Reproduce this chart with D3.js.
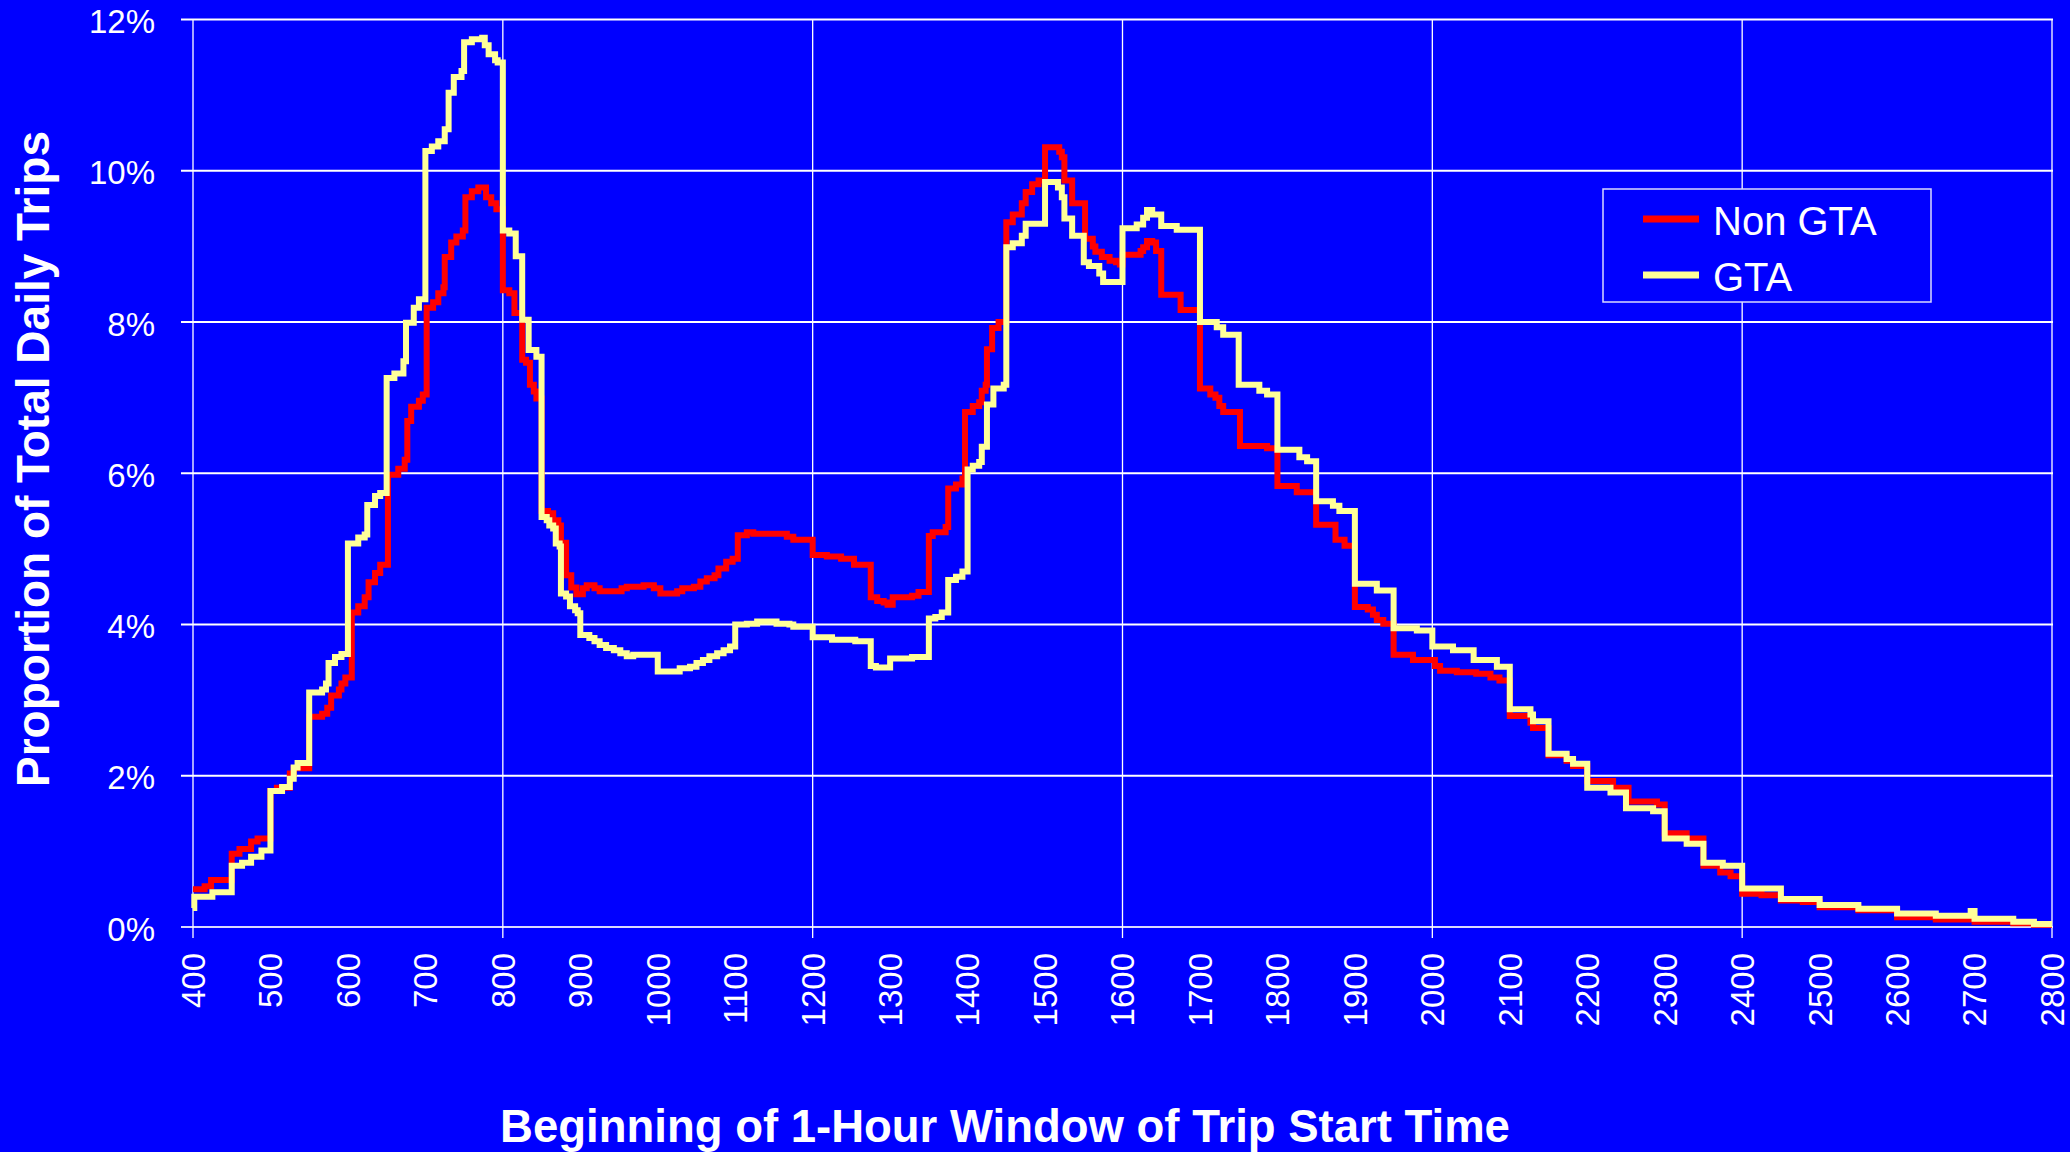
<!DOCTYPE html>
<html>
<head>
<meta charset="utf-8">
<script src="https://cdn.jsdelivr.net/npm/d3@7"></script>
<style>
  html, body { margin: 0; padding: 0; background: #0000ff; }
  svg { display: block; }
  text { font-family: Arial, "Liberation Sans", sans-serif; fill: #ffffff; }
</style>
</head>
<body>
<div id="chart"></div>
<script>
// [start of step (hhmm, may pass 2400), proportion %]
var nonGtaSteps = [
  [400,0.50],[409,0.54],[414,0.62],[430,0.97],[436,1.03],[445,1.13],[450,1.17],
  [500,1.80],[505,1.84],[515,2.03],[518,2.10],
  [530,2.78],[540,2.82],[544,2.90],[547,3.06],[553,3.14],[555,3.22],[558,3.30],
  [603,4.16],[608,4.24],[613,4.36],[616,4.56],[621,4.68],[625,4.79],
  [631,5.98],[639,6.06],[644,6.18],[646,6.69],[649,6.88],[655,6.96],[658,7.04],
  [701,8.19],[706,8.26],[710,8.38],[714,8.46],[715,8.86],[720,9.05],[724,9.13],[729,9.21],
  [731,9.65],[736,9.73],[741,9.78],[747,9.65],[751,9.57],[755,9.49],
  [800,8.42],[805,8.38],[809,8.12],[815,7.50],[818,7.46],[821,7.17],[824,7.08],[826,6.99],
  [830,5.50],[835,5.47],[839,5.38],[843,5.31],[845,5.08],[849,4.65],[853,4.49],[857,4.40],
  [902,4.48],[905,4.52],[911,4.48],[915,4.44],[932,4.48],[936,4.50],[949,4.52],[957,4.48],
  [1002,4.41],[1015,4.44],[1019,4.48],[1028,4.50],[1033,4.57],[1038,4.61],[1044,4.65],[1047,4.74],[1053,4.83],[1058,4.87],
  [1102,5.18],[1109,5.22],[1114,5.20],[1140,5.16],[1145,5.12],
  [1200,4.92],[1211,4.90],[1222,4.87],[1232,4.79],
  [1245,4.36],[1250,4.31],[1255,4.29],[1258,4.26],[1302,4.36],[1317,4.38],[1322,4.43],
  [1330,5.17],[1333,5.22],[1343,5.29],
  [1345,5.80],[1351,5.85],[1356,5.93],
  [1358,6.81],[1404,6.89],[1409,6.94],[1411,7.09],[1414,7.17],[1415,7.64],[1419,7.92],[1424,8.00],
  [1430,9.32],[1435,9.42],[1442,9.57],[1445,9.72],[1450,9.82],[1455,9.87],
  [1500,10.31],[1511,10.25],[1513,10.18],
  [1515,9.87],[1521,9.57],[1531,9.10],[1537,9.00],[1539,8.93],[1544,8.86],[1550,8.81],[1555,8.79],[1558,8.76],
  [1600,8.89],[1614,8.94],[1616,8.99],[1619,9.07],[1623,9.05],[1626,8.94],
  [1630,8.36],[1645,8.16],
  [1700,7.12],[1708,7.04],[1712,7.00],[1715,6.89],[1718,6.81],
  [1731,6.36],[1752,6.33],
  [1800,5.83],[1815,5.75],
  [1830,5.32],[1845,5.12],[1852,5.04],
  [1900,4.23],[1910,4.20],[1914,4.13],[1917,4.06],[1922,4.01],
  [1930,3.60],[1945,3.53],
  [2002,3.45],[2006,3.39],[2019,3.37],[2034,3.35],[2045,3.30],[2052,3.26],
  [2100,2.79],[2116,2.70],[2118,2.63],
  [2130,2.27],[2144,2.20],[2149,2.13],
  [2200,1.93],[2220,1.84],
  [2232,1.66],[2254,1.62],
  [2300,1.24],[2317,1.17],
  [2330,0.81],[2343,0.72],[2351,0.67],
  [2400,0.44],[2415,0.42],[2430,0.35],[2447,0.33],[2500,0.26],[2530,0.22],
  [2600,0.13],[2630,0.10],[2700,0.07],[2730,0.05],[2746,0.03],[2800,0.03]
];

var gtaSteps = [
  [400,0.25],[401,0.40],[415,0.46],[430,0.81],[438,0.85],[445,0.93],[453,1.01],
  [500,1.80],[509,1.85],[515,1.96],[518,2.11],[521,2.17],
  [530,3.10],[540,3.14],[543,3.22],[545,3.49],[550,3.57],[555,3.61],
  [600,5.07],[608,5.15],[613,5.19],[615,5.58],[621,5.70],[625,5.74],
  [630,7.26],[636,7.32],[643,7.48],[645,7.99],[651,8.19],[655,8.30],
  [700,10.26],[705,10.32],[710,10.39],[715,10.55],[718,11.03],[722,11.24],[728,11.32],
  [730,11.70],[736,11.74],[744,11.76],[746,11.66],[749,11.54],[754,11.46],[756,11.43],
  [800,9.21],[805,9.17],[810,8.87],[815,8.03],[820,7.63],[826,7.54],
  [830,5.42],[834,5.38],[836,5.31],[839,5.27],[841,5.07],[844,5.03],
  [845,4.41],[849,4.37],[852,4.24],[856,4.19],[858,4.15],
  [900,3.86],[907,3.82],[911,3.78],[915,3.73],[920,3.69],[926,3.66],[931,3.62],[936,3.58],[941,3.60],
  [1000,3.38],[1017,3.42],[1025,3.44],[1030,3.49],[1035,3.53],[1040,3.58],[1046,3.62],[1051,3.66],[1056,3.71],
  [1100,4.00],[1109,4.01],[1117,4.04],[1132,4.01],[1142,4.00],[1145,3.97],
  [1200,3.83],[1215,3.80],[1233,3.78],
  [1245,3.45],[1249,3.43],
  [1300,3.55],[1317,3.57],
  [1330,4.08],[1335,4.10],[1340,4.16],
  [1345,4.59],[1351,4.63],[1356,4.70],
  [1400,6.05],[1404,6.10],[1409,6.15],[1411,6.35],[1415,6.91],[1420,7.12],[1428,7.17],
  [1430,8.99],[1435,9.04],[1442,9.14],[1445,9.30],
  [1500,9.85],[1510,9.78],[1513,9.65],
  [1515,9.37],[1521,9.14],
  [1530,8.79],[1534,8.74],[1542,8.64],[1545,8.53],
  [1600,9.24],[1611,9.29],[1616,9.38],[1619,9.48],[1623,9.42],
  [1630,9.27],[1642,9.22],
  [1700,8.00],[1713,7.93],[1718,7.83],
  [1730,7.17],[1746,7.09],[1752,7.04],
  [1800,6.31],[1817,6.21],[1823,6.16],
  [1830,5.63],[1843,5.57],[1848,5.50],
  [1900,4.54],[1917,4.45],
  [1930,3.95],[1948,3.92],
  [2000,3.71],[2016,3.66],[2032,3.53],[2050,3.44],
  [2100,2.88],[2116,2.81],[2118,2.72],
  [2130,2.29],[2144,2.22],[2149,2.16],
  [2200,1.84],[2218,1.78],
  [2230,1.57],[2251,1.53],
  [2300,1.17],[2317,1.10],
  [2330,0.85],[2345,0.81],
  [2400,0.51],[2430,0.37],[2500,0.29],[2530,0.24],[2600,0.18],[2630,0.15],
  [2657,0.21],[2700,0.11],[2730,0.07],[2746,0.04],[2800,0.04]
];

var seriesNames = ["Non GTA", "GTA"];
var seriesColors = ["#ff0000", "#ffff99"];
var yTickValues = [0, 2, 4, 6, 8, 10, 12];
var hourLabels = [400, 500, 600, 700, 800, 900, 1000, 1100, 1200, 1300, 1400, 1500, 1600,
  1700, 1800, 1900, 2000, 2100, 2200, 2300, 2400, 2500, 2600, 2700, 2800];
var gridHours = [400, 800, 1200, 1600, 2000, 2400, 2800];

var width = 2070,
  height = 1152;
var plot = { left: 193, right: 2052, top: 19.5, bottom: 927 };

function toMinutes(hhmm) {
  return Math.floor(hhmm / 100) * 60 + (hhmm % 100);
}

var x = d3
  .scaleLinear()
  .domain([toMinutes(400), toMinutes(2800)])
  .range([plot.left, plot.right]);
var y = d3.scaleLinear().domain([0, 12]).range([plot.bottom, plot.top]);

var svg = d3
  .select("#chart")
  .append("svg")
  .attr("width", width)
  .attr("height", height);

svg
  .append("rect")
  .attr("width", width)
  .attr("height", height)
  .attr("fill", "#0000ff");

// horizontal gridlines, poking out left as tick marks
svg
  .append("g")
  .selectAll("line")
  .data(yTickValues)
  .enter()
  .append("line")
  .attr("x1", plot.left - 12)
  .attr("x2", plot.right + 1)
  .attr("y1", function (d) {
    return y(d);
  })
  .attr("y2", function (d) {
    return y(d);
  })
  .attr("stroke", function (d) {
    return d === 0 ? "#d8d8ff" : "#ffffff";
  })
  .attr("stroke-width", 2);

// vertical gridlines every 4 hours
svg
  .append("g")
  .selectAll("line")
  .data(gridHours)
  .enter()
  .append("line")
  .attr("x1", function (d) {
    return x(toMinutes(d));
  })
  .attr("x2", function (d) {
    return x(toMinutes(d));
  })
  .attr("y1", plot.top)
  .attr("y2", plot.bottom + 11)
  .attr("stroke", "#ffffff")
  .attr("stroke-width", 1.3);

// y axis labels
var yAxis = d3
  .axisLeft(y)
  .tickValues(yTickValues)
  .tickSize(0)
  .tickPadding(38)
  .tickFormat(function (d) {
    return d + "%";
  });
var yAxisG = svg
  .append("g")
  .attr("transform", "translate(" + plot.left + ",0)")
  .call(yAxis);
yAxisG.select(".domain").remove();
yAxisG
  .selectAll("text")
  .attr("fill", "#ffffff")
  .attr("font-size", "33px")
  .attr("font-family", "Arial, 'Liberation Sans', sans-serif")
  .attr("dy", "0.4em");

// x labels, rotated
svg
  .append("g")
  .selectAll("text")
  .data(hourLabels)
  .enter()
  .append("text")
  .attr("transform", function (d) {
    return "translate(" + x(toMinutes(d)) + ",953) rotate(-90)";
  })
  .attr("text-anchor", "end")
  .attr("dy", "0.36em")
  .attr("font-size", "33px")
  .text(function (d) {
    return d;
  });

// series lines, GTA drawn last so it sits on top
var line = d3
  .line()
  .x(function (d) {
    return x(toMinutes(d[0]));
  })
  .y(function (d) {
    return y(d[1]);
  })
  .curve(d3.curveStepAfter);

[nonGtaSteps, gtaSteps].forEach(function (steps, i) {
  svg
    .append("path")
    .datum(steps)
    .attr("d", line)
    .attr("fill", "none")
    .attr("stroke", seriesColors[i])
    .attr("stroke-width", 6)
    .attr("stroke-linejoin", "miter");
});

// axis titles
svg
  .append("text")
  .attr("x", 1005)
  .attr("y", 1142)
  .attr("text-anchor", "middle")
  .attr("font-size", "45.5px")
  .attr("font-weight", "bold")
  .text("Beginning of 1-Hour Window of Trip Start Time");

svg
  .append("text")
  .attr("transform", "translate(49,459) rotate(-90)")
  .attr("text-anchor", "middle")
  .attr("font-size", "46px")
  .attr("font-weight", "bold")
  .text("Proportion of Total Daily Trips");

// legend
var legend = svg.append("g").attr("class", "legend");
legend
  .append("rect")
  .attr("x", 1603)
  .attr("y", 189)
  .attr("width", 328)
  .attr("height", 113)
  .attr("fill", "#0000ff")
  .attr("stroke", "#d8d8ff")
  .attr("stroke-width", 1.5);

var legendItems = legend
  .selectAll("g")
  .data(seriesNames)
  .enter()
  .append("g")
  .attr("transform", function (d, i) {
    return "translate(1643," + (219 + i * 56) + ")";
  });
legendItems
  .append("line")
  .attr("x1", 0)
  .attr("x2", 56)
  .attr("stroke", function (d, i) {
    return seriesColors[i];
  })
  .attr("stroke-width", 7);
legendItems
  .append("text")
  .attr("x", 70)
  .attr("y", 16)
  .attr("font-size", "40px")
  .text(function (d) {
    return d;
  });
</script>
</body>
</html>
